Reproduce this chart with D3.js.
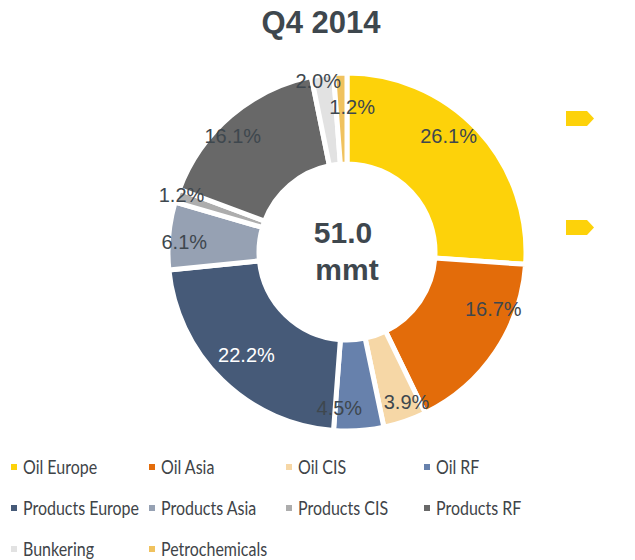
<!DOCTYPE html>
<html>
<head>
<meta charset="utf-8">
<script src="https://cdn.jsdelivr.net/npm/d3@7"></script>
<style>
  html, body { margin: 0; padding: 0; background: #fff; }
  svg { display: block; }
</style>
</head>
<body>
<svg id="chart" width="635" height="560"></svg>
<script>
// Export volumes by destination, share of total (%)
const categories = ["Oil Europe", "Oil Asia", "Oil CIS", "Oil RF", "Products Europe",
  "Products Asia", "Products CIS", "Products RF", "Bunkering", "Petrochemicals"];
const shares = [26.1, 16.7, 3.9, 4.5, 22.2, 6.1, 1.2, 16.1, 2.0, 1.2];
const colors = ["#FDD20A", "#E36C0A", "#F6D7A6", "#6781AC", "#465A78",
  "#96A1B3", "#ADADAD", "#686868", "#E2E2E2", "#F0C25E"];
const title = "Q4 2014";
const totalValue = "51.0";
const totalUnit = "mmt";

// label placement around each slice: angular nudge (deg) and radius (px)
const labelNudge = [-5.7, -12.7, -2.8, 6.6, 0, -1.8, 0.6, -4, -1.6, 4.2];
const labelRadius = [154, 157, 161, 156, 144, 163, 175, 163, 174, 145];

const svg = d3.select("#chart");
const cx = 347, cy = 252;
const outerR = 179, innerR = 88;
const textColor = "#3E474E";

svg.append("text")
  .attr("x", 321).attr("y", 33)
  .attr("text-anchor", "middle")
  .attr("font-family", "Liberation Sans, Arial, sans-serif")
  .attr("font-weight", "bold")
  .attr("font-size", 31)
  .attr("fill", textColor)
  .text(title);

const pie = d3.pie().sort(null).value(d => d.v);
const arcs = pie(categories.map((c, i) => ({ c, v: shares[i], i })));
const arc = d3.arc().innerRadius(innerR).outerRadius(outerR);

const g = svg.append("g").attr("transform", `translate(${cx},${cy})`);

g.selectAll("path.slice")
  .data(arcs)
  .join("path")
  .attr("class", "slice")
  .attr("d", arc)
  .attr("fill", d => colors[d.data.i])
  .attr("stroke", "#fff")
  .attr("stroke-width", 5)
  .attr("stroke-linejoin", "miter");

const fmt = d3.format(".1f");
g.selectAll("text.lbl")
  .data(arcs)
  .join("text")
  .attr("class", "lbl")
  .attr("transform", d => {
    const a = (d.startAngle + d.endAngle) / 2 + labelNudge[d.data.i] * Math.PI / 180;
    const r = labelRadius[d.data.i];
    return `translate(${r * Math.sin(a)},${-r * Math.cos(a)})`;
  })
  .attr("text-anchor", "middle")
  .attr("dy", "0.36em")
  .attr("font-family", "Liberation Sans, Arial, sans-serif")
  .attr("font-size", 20)
  .attr("fill", d => d.data.c === "Products Europe" ? "#ffffff" : textColor)
  .text(d => fmt(d.data.v) + "%");

// total in the hole
g.append("text")
  .attr("x", -4).attr("y", -9)
  .attr("text-anchor", "middle")
  .attr("font-family", "Liberation Sans, Arial, sans-serif")
  .attr("font-weight", "bold")
  .attr("font-size", 30)
  .attr("fill", textColor)
  .text(totalValue);
g.append("text")
  .attr("x", 0).attr("y", 28)
  .attr("text-anchor", "middle")
  .attr("font-family", "Liberation Sans, Arial, sans-serif")
  .attr("font-weight", "bold")
  .attr("font-size", 30)
  .attr("fill", textColor)
  .text(totalUnit);

// yellow pointer tags on the right
const tag = "M0,0 H21 L28,7.5 L21,15 H0 Z";
[111, 220].forEach(y => {
  svg.append("path")
    .attr("d", tag)
    .attr("transform", `translate(566,${y})`)
    .attr("fill", "#FDD20A");
});

// legend: 4 columns
const colX = [14, 152, 289, 427];
const rowY = [467, 508, 549];
const legend = svg.append("g");
categories.forEach((c, i) => {
  const x = colX[i % 4], y = rowY[Math.floor(i / 4)];
  legend.append("rect")
    .attr("x", x - 3).attr("y", y - 3)
    .attr("width", 6).attr("height", 6)
    .attr("fill", colors[i]);
  legend.append("text")
    .attr("x", x + 9).attr("y", y)
    .attr("dy", "0.35em")
    .attr("font-family", "Lato, sans-serif")
    .attr("font-size", 19.5)
    .attr("transform", `translate(${x + 9},${y}) scale(0.82,1) translate(${-(x + 9)},${-y})`)
    .attr("fill", "#404448")
    .text(c);
});
</script>
</body>
</html>
